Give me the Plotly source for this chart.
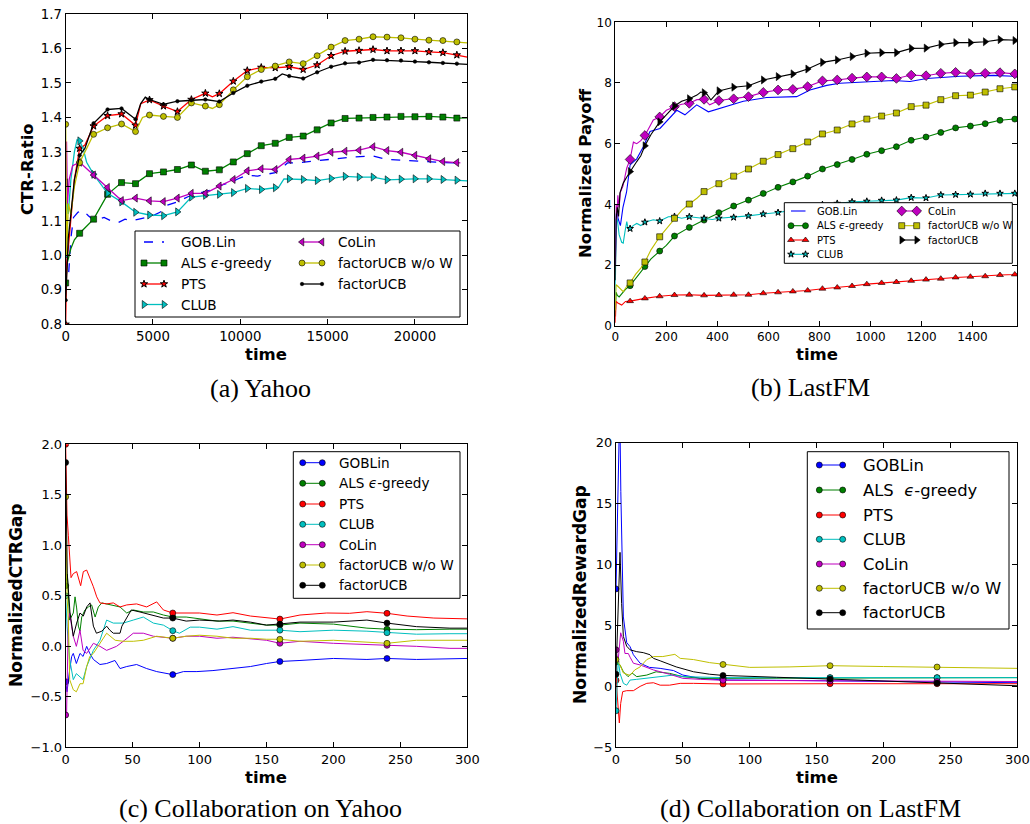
import plotly.graph_objects as go

BLUE, GREEN, RED, CYAN, MAG, YEL, BLK = '#0000ff', '#008000', '#ff0000', '#00bfbf', '#bf00bf', '#bfbf00', '#000000'
NAMES_A = ['GOB.Lin', 'ALS <i>ϵ</i>-greedy', 'PTS', 'CLUB', 'CoLin', 'factorUCB w/o W', 'factorUCB']
NAMES_C = ['GOBLin', 'ALS <i>ϵ</i>-greedy', 'PTS', 'CLUB', 'CoLin', 'factorUCB w/o W', 'factorUCB']
NAMES_D = ['GOBLin', 'ALS  <i>ϵ</i>-greedy', 'PTS', 'CLUB', 'CoLin', 'factorUCB w/o W', 'factorUCB']

# ---------------- (a) Yahoo : CTR-Ratio ----------------
A_MT = [0, 800, 1600, 2400, 3200, 4000, 4800, 5600, 6400, 7200, 8000, 8800, 9600, 10400, 11200,
        12000, 12800, 13600, 14400, 15200, 16000, 16800, 17600, 18400, 19200, 20000, 20800, 21600, 22400]
A_GOB_T = [0, 150, 300, 450, 700, 1000, 1300, 1600, 1900, 2200, 2600, 3000, 3400, 3800, 4200, 4600, 5000,
           5400, 5800, 6400, 7000, 7600, 8400, 9000, 9600, 10000, 10400, 11000, 11600, 12000, 12400, 12700,
           13200, 14000, 15000, 15600, 16400, 17200, 17600, 18400, 19200, 20000, 21000, 22000, 22600]
A_GOB_V = [0.9, 0.93, 1.05, 1.11, 1.125, 1.13, 1.115, 1.102, 1.105, 1.11, 1.10, 1.095, 1.105, 1.10, 1.105,
           1.11, 1.115, 1.125, 1.145, 1.155, 1.17, 1.18, 1.19, 1.205, 1.215, 1.225, 1.232, 1.23, 1.235, 1.24,
           1.255, 1.268, 1.268, 1.272, 1.278, 1.282, 1.285, 1.287, 1.288, 1.278, 1.276, 1.275, 1.272, 1.268, 1.267]
A_ALS_MV = [0.92, 1.064, 1.105, 1.177, 1.211, 1.208, 1.237, 1.242, 1.249, 1.262, 1.244, 1.248, 1.271, 1.295,
            1.318, 1.325, 1.342, 1.346, 1.364, 1.384, 1.397, 1.398, 1.400, 1.401, 1.403, 1.402, 1.403, 1.401, 1.398]
A_ALS_XT = [100, 300, 500, 23000]
A_ALS_XV = [0.98, 1.02, 1.045, 1.399]
A_PTS_MV = [0.80, 1.31, 1.375, 1.405, 1.41, 1.377, 1.451, 1.433, 1.417, 1.452, 1.47, 1.469, 1.505, 1.536,
            1.545, 1.544, 1.547, 1.539, 1.552, 1.579, 1.592, 1.594, 1.597, 1.593, 1.593, 1.593, 1.59, 1.588, 1.581]
A_PTS_XT = [60, 150, 300, 500, 1100, 4300, 8400, 23000]
A_PTS_XV = [0.98, 1.02, 1.10, 1.22, 1.32, 1.44, 1.46, 1.575]
A_CLUB_MV = [1.0, 1.332, 1.235, 1.18, 1.155, 1.125, 1.117, 1.115, 1.126, 1.169, 1.174, 1.177, 1.182, 1.194,
             1.191, 1.196, 1.222, 1.22, 1.217, 1.223, 1.229, 1.227, 1.227, 1.219, 1.221, 1.222, 1.222, 1.22, 1.218]
A_CLUB_XT = [60, 150, 300, 500, 650, 1000, 1200, 12200, 12500, 23000]
A_CLUB_XV = [1.17, 1.12, 1.22, 1.3, 1.335, 1.31, 1.27, 1.198, 1.222, 1.216]
A_COLIN_MV = [1.21, 1.27, 1.233, 1.197, 1.159, 1.166, 1.158, 1.156, 1.166, 1.18, 1.18, 1.201, 1.22, 1.245,
              1.251, 1.249, 1.278, 1.282, 1.288, 1.299, 1.302, 1.305, 1.315, 1.304, 1.299, 1.29, 1.28, 1.272, 1.269]
A_COLIN_XT = [50, 100, 200, 400, 22600]
A_COLIN_XV = [1.33, 1.15, 1.22, 1.26, 1.268]
A_WOW_MV = [1.38, 1.269, 1.351, 1.37, 1.381, 1.359, 1.407, 1.403, 1.40, 1.442, 1.433, 1.437, 1.48, 1.518,
            1.539, 1.549, 1.561, 1.556, 1.579, 1.604, 1.623, 1.627, 1.634, 1.633, 1.631, 1.627, 1.624, 1.623, 1.619]
A_WOW_XT = [60, 150, 300, 500, 4400, 8400, 23000]
A_WOW_XV = [1.0, 1.15, 1.12, 1.2, 1.40, 1.426, 1.616]
A_FUCB_MV = [0.87, 1.29, 1.383, 1.423, 1.426, 1.395, 1.452, 1.438, 1.447, 1.45, 1.452, 1.446, 1.471, 1.492,
             1.504, 1.512, 1.52, 1.513, 1.531, 1.547, 1.557, 1.559, 1.567, 1.566, 1.565, 1.562, 1.56, 1.558, 1.556]
A_FUCB_XT = [60, 150, 300, 500, 1100, 4300, 4560, 12400, 23000]
A_FUCB_XV = [0.97, 1.05, 1.12, 1.22, 1.31, 1.44, 1.459, 1.526, 1.554]

# ---------------- (b) LastFM : Normalized Payoff ----------------
B_MT = [58, 116, 174, 232, 290, 348, 406, 464, 522, 580, 638, 696, 754, 812, 870, 928, 986, 1044, 1102,
        1160, 1218, 1276, 1334, 1392, 1450, 1508, 1566]
B_GOB_T = [0, 5, 12, 20, 30, 44, 58, 84, 110, 136, 175, 201, 241, 273, 319, 365, 410, 502, 593, 711, 763,
           829, 880, 959, 1090, 1155, 1221, 1351, 1482, 1561, 1576]
B_GOB_V = [2.0, 3.8, 3.5, 3.3, 3.9, 4.4, 5.3, 5.5, 5.9, 6.4, 6.5, 6.75, 7.1, 6.95, 7.28, 7.05, 7.17, 7.4,
           7.52, 7.55, 7.77, 7.92, 7.99, 8.02, 8.08, 8.05, 8.15, 8.22, 8.25, 8.22, 8.2]
B_ALS_MV = [1.32, 1.95, 2.46, 2.956, 3.24, 3.48, 3.725, 3.945, 4.14, 4.36, 4.56, 4.74, 4.93, 5.165, 5.31,
            5.48, 5.65, 5.77, 5.90, 6.11, 6.22, 6.37, 6.52, 6.58, 6.66, 6.77, 6.81]
B_ALS_XT = [0, 3, 8, 15, 25, 40, 80, 100, 140, 200, 260, 1576]
B_ALS_XV = [0.3, 1.1, 1.0, 0.95, 1.05, 1.2, 1.55, 1.75, 2.2, 2.65, 3.1, 6.82]
B_PTS_MV = [0.81, 0.9, 0.97, 1.01, 1.02, 1.0, 1.01, 1.02, 1.02, 1.07, 1.1, 1.13, 1.16, 1.22, 1.26, 1.31,
            1.37, 1.41, 1.44, 1.48, 1.52, 1.55, 1.59, 1.615, 1.63, 1.67, 1.69]
B_PTS_XT = [0, 3, 10, 25, 40, 1576]
B_PTS_XV = [0.1, 0.8, 0.75, 0.68, 0.8, 1.7]
B_CLUB_MV = [3.2, 3.41, 3.45, 3.6, 3.59, 3.54, 3.54, 3.57, 3.62, 3.68, 3.73, 3.81, 3.89, 3.99, 4.03, 4.08,
             4.1, 4.13, 4.14, 4.22, 4.21, 4.31, 4.32, 4.33, 4.36, 4.36, 4.36]
B_CLUB_XT = [0, 3, 8, 15, 25, 31, 38, 45, 50, 70, 84, 100, 149, 208, 260, 325, 380, 1576]
B_CLUB_XV = [1.0, 3.7, 3.5, 3.0, 2.75, 2.72, 3.1, 3.43, 3.2, 3.3, 3.37, 3.3, 3.49, 3.59, 3.54, 3.56, 3.5, 4.36]
B_COLIN_MV = [5.48, 6.27, 6.88, 7.22, 7.33, 7.46, 7.42, 7.48, 7.55, 7.69, 7.77, 7.79, 7.88, 8.07, 8.1,
              8.16, 8.2, 8.2, 8.15, 8.26, 8.24, 8.32, 8.35, 8.3, 8.32, 8.34, 8.30]
B_COLIN_XT = [0, 3, 6, 10, 15, 20, 30, 45, 71, 84, 100, 149, 200, 260, 320, 370, 1576]
B_COLIN_XV = [2.0, 4.0, 3.5, 4.3, 3.9, 4.4, 4.6, 5.2, 6.05, 6.0, 6.1, 6.78, 7.1, 7.3, 7.45, 7.28, 8.3]
B_WOW_MV = [1.41, 2.1, 2.93, 3.54, 4.01, 4.42, 4.68, 4.93, 5.165, 5.42, 5.64, 5.835, 6.055, 6.32, 6.45,
            6.65, 6.81, 6.91, 7.01, 7.22, 7.27, 7.45, 7.58, 7.60, 7.70, 7.81, 7.87]
B_WOW_XT = [0, 3, 10, 20, 31, 45, 80, 100, 140, 200, 260, 320, 1576]
B_WOW_XV = [0.5, 1.35, 1.3, 1.2, 1.12, 1.3, 1.7, 1.9, 2.5, 3.2, 3.8, 4.2, 7.95]
B_FUCB_MV = [5.08, 5.93, 6.72, 7.24, 7.48, 7.68, 7.74, 7.86, 7.91, 8.1, 8.21, 8.3, 8.46, 8.68, 8.76, 8.87,
             8.98, 9.0, 9.0, 9.14, 9.15, 9.27, 9.33, 9.33, 9.36, 9.43, 9.40]
B_FUCB_XT = [0, 3, 8, 13, 18, 31, 45, 84, 100, 140, 200, 260, 320, 335, 360, 375, 1576]
B_FUCB_XV = [1.5, 3.5, 3.9, 3.6, 4.37, 4.7, 4.9, 5.41, 5.6, 6.3, 6.95, 7.4, 7.6, 7.7, 7.62, 7.44, 9.41]

# ---------------- (c) Collaboration on Yahoo : NormalizedCTRGap ----------------
CD_MT = [0, 80, 160, 240]
C_GOB_T = [0, 1, 3, 4.5, 5.7, 8, 10.7, 13, 15.7, 18, 20.7, 25.6, 30.6, 36.8, 40.6, 45.6, 53, 60.5, 68, 80,
           88, 98, 110, 125, 138, 150, 160, 175, 200, 225, 240, 262, 287, 300]
C_GOB_V = [-0.35, -0.45, -0.23, -0.1, -0.07, -0.17, -0.07, -0.1, 0.0, -0.07, -0.13, -0.18, -0.17, -0.14, -0.22,
           -0.2, -0.18, -0.22, -0.25, -0.28, -0.25, -0.25, -0.24, -0.22, -0.2, -0.17, -0.15, -0.14, -0.12,
           -0.13, -0.12, -0.13, -0.12, -0.12]
C_ALS_T = [0, 1.2, 3, 5.7, 7, 8.2, 9.5, 10.7, 12, 14.4, 17, 19.4, 22, 24.4, 27, 33, 40.6, 45.6, 50.5, 58,
           65.5, 73, 80, 90, 100, 113, 125, 138, 150, 160, 175, 200, 225, 240, 262, 287, 300]
C_ALS_V = [0.6, 0.72, 0.26, 0.33, 0.49, 0.38, 0.2, 0.15, 0.29, 0.36, 0.39, 0.41, 0.29, 0.39, 0.43, 0.41,
           0.39, 0.33, 0.36, 0.34, 0.34, 0.31, 0.29, 0.29, 0.27, 0.25, 0.25, 0.23, 0.21, 0.21, 0.23, 0.22,
           0.18, 0.17, 0.165, 0.17, 0.17]
C_PTS_T = [0, 1, 2, 3, 4, 5.7, 8.2, 11.2, 13.2, 15.7, 18.2, 20.7, 23.2, 25.6, 30.6, 35.6, 40.6, 45.6, 53,
           60.5, 68, 73, 80, 90, 100, 113, 125, 138, 160, 175, 195, 212, 225, 240, 255, 275, 300]
C_PTS_V = [2.0, 1.3, 1.1, 0.9, 0.68, 0.72, 0.74, 0.6, 0.74, 0.755, 0.68, 0.59, 0.49, 0.43, 0.42, 0.43, 0.39,
           0.41, 0.42, 0.39, 0.44, 0.36, 0.33, 0.33, 0.33, 0.31, 0.333, 0.30, 0.27, 0.31, 0.33, 0.327, 0.343,
           0.327, 0.30, 0.28, 0.272]
C_CLUB_T = [0, 1, 3, 5.7, 8, 10.7, 13, 15.7, 20.7, 25.6, 30.6, 35.6, 43, 50.5, 58, 65.5, 73, 80, 85, 93,
            100, 113, 125, 138, 160, 175, 200, 225, 240, 262, 287, 300]
C_CLUB_V = [0.5, 0.2, -0.13, -0.33, -0.27, -0.3, -0.33, -0.2, -0.04, 0.06, 0.26, 0.23, 0.23, 0.26, 0.29,
            0.23, 0.21, 0.155, 0.13, 0.19, 0.19, 0.17, 0.195, 0.16, 0.16, 0.145, 0.16, 0.15, 0.135, 0.12,
            0.125, 0.125]
C_COLIN_T = [0, 0.7, 2, 3, 4.5, 5.7, 8, 10.7, 13, 15.7, 20.7, 25.6, 30.6, 38, 44, 50.5, 58, 65.5, 80, 90,
             100, 113, 125, 150, 160, 175, 200, 225, 240, 262, 287, 300]
C_COLIN_V = [-0.68, -0.66, 0.26, 0.33, 0.195, 0.1, 0.0, 0.16, -0.04, -0.07, 0.03, 0.0, -0.04, 0.0, 0.06,
             0.13, 0.13, 0.1, 0.08, 0.1, 0.1, 0.08, 0.09, 0.06, 0.03, 0.05, 0.03, 0.02, 0.01, 0.0, -0.02, -0.02]
C_WOW_T = [0, 1, 2, 3, 5.7, 8, 10.7, 13, 15.7, 18, 20.7, 25.6, 30.6, 37, 43, 50.5, 58, 68, 80, 90, 100, 113,
           125, 138, 150, 160, 175, 200, 225, 240, 262, 287, 300]
C_WOW_V = [1.48, 0.5, 0.26, -0.33, -0.43, -0.45, -0.37, -0.37, -0.2, -0.1, -0.07, 0.03, 0.13, 0.06, 0.05,
           0.05, 0.06, 0.1, 0.08, 0.1, 0.11, 0.1, 0.08, 0.08, 0.07, 0.07, 0.05, 0.06, 0.04, 0.03, 0.06, 0.06, 0.06]
C_FUCB_T = [0, 1.2, 3.2, 5.7, 8.2, 10.7, 13.2, 15.7, 18.2, 20.7, 23, 27, 30.6, 33, 35.6, 40.6, 42, 45.6, 49,
            55.5, 65.5, 73, 80, 90, 100, 115, 125, 138, 150, 160, 175, 200, 225, 240, 262, 287, 300]
C_FUCB_V = [1.82, 0.72, 0.34, 0.1, 0.23, 0.33, 0.3, 0.39, 0.43, 0.2, 0.13, 0.15, 0.2, 0.16, 0.13, 0.13, 0.2,
            0.29, 0.36, 0.34, 0.31, 0.28, 0.28, 0.25, 0.26, 0.25, 0.26, 0.24, 0.21, 0.22, 0.24, 0.24, 0.26,
            0.23, 0.195, 0.18, 0.18]

# ---------------- (d) Collaboration on LastFM : NormalizedRewardGap ----------------
D_GOB_T = [0, 2.8, 3.6, 4.5, 5.5, 8, 10.5, 13, 18, 25, 33, 43, 50, 63, 80, 120, 160, 200, 240, 270, 300]
D_GOB_V = [8.0, 23.0, 16.0, 10.9, 5.7, 3.6, 3.26, 2.6, 1.9, 1.56, 1.48, 1.3, 0.93, 0.66, 0.53, 0.5, 0.45,
           0.42, 0.4, 0.35, 0.3]
D_ALS_T = [0, 3, 5.5, 9, 12, 15.5, 23, 30, 40, 50, 63, 80, 160, 240, 300]
D_ALS_V = [2.0, 1.76, 1.2, 0.8, 1.1, 0.8, 0.93, 1.2, 1.07, 0.8, 0.66, 0.66, 0.7, 0.7, 0.72]
D_PTS_T = [0, 0.5, 1.7, 2.5, 3.5, 5, 8, 13, 18, 23, 28, 33, 40, 48, 58, 80, 160, 240, 300]
D_PTS_V = [0.5, 0.0, -1.9, -3.0, -1.4, -0.43, -0.35, -0.35, 0.0, 0.25, 0.3, 0.1, 0.1, 0.25, 0.25, 0.2, 0.22,
           0.22, 0.22]
D_CLUB_T = [0, 1.7, 3, 5.5, 8, 10.5, 15.5, 23, 33, 43, 50, 63, 80, 160, 240, 300]
D_CLUB_V = [-2.0, 2.2, 1.07, 0.25, 0.1, 0.52, 0.58, 0.66, 0.8, 0.93, 0.8, 0.74, 0.72, 0.72, 0.72, 0.72]
D_COLIN_T = [0, 1.5, 3.5, 5.5, 6.7, 9.2, 10.5, 13, 18, 28, 40, 50, 63, 80, 120, 160, 200, 240, 270, 300]
D_COLIN_V = [3.0, 2.0, 4.4, 3.7, 2.7, 2.7, 2.4, 1.9, 1.76, 1.35, 1.0, 0.66, 0.58, 0.5, 0.48, 0.45, 0.42, 0.4,
             0.4, 0.4]
D_WOW_T = [0, 3, 5.5, 10.5, 14, 18, 23, 28, 35, 44, 48, 58, 70, 80, 100, 130, 160, 200, 240, 270, 300]
D_WOW_V = [2.2, 1.76, 1.1, 0.9, 1.35, 1.6, 2.2, 2.45, 2.45, 2.63, 2.3, 2.2, 1.95, 1.8, 1.56, 1.6, 1.7, 1.63,
           1.59, 1.52, 1.48]
D_FUCB_T = [0, 3, 4.2, 5.5, 8, 10.5, 15.5, 20.4, 25.4, 28, 33, 38, 45, 58, 70, 80, 100, 120, 160, 200, 240,
            270, 300]
D_FUCB_V = [1.0, 11.0, 6.8, 4.1, 3.3, 3.0, 2.85, 2.77, 2.6, 2.3, 2.1, 1.9, 1.6, 1.2, 1.0, 0.9, 0.8, 0.75,
            0.6, 0.45, 0.27, 0.15, 0.05]

fig = go.Figure()
ANN = []


def merge(xt, xv, mt, mv):
    pts = sorted(zip(list(xt) + list(mt), list(xv) + list(mv)))
    return [p[0] for p in pts], [p[1] for p in pts]


def add_line(t, v, color, ax, width, dash='solid'):
    fig.add_trace(go.Scatter(x=t, y=v, mode='lines', line=dict(color=color, width=width, dash=dash),
                             xaxis='x' + ax, yaxis='y' + ax, showlegend=False, hoverinfo='skip'))


def add_marks(t, v, color, ax, symbol, size, lw=0.6):
    fig.add_trace(go.Scatter(x=t, y=v, mode='markers',
                             marker=dict(symbol=symbol, size=size, color=color, line=dict(color='black', width=lw)),
                             xaxis='x' + ax, yaxis='y' + ax, showlegend=False, hoverinfo='skip'))


def series(xt, xv, mt, mv, color, ax, width, symbol, size, lw=0.6):
    t, v = merge(xt, xv, mt, mv)
    add_line(t, v, color, ax, width)
    add_marks(mt, mv, color, ax, symbol, size, lw)


def series_sel(t, v, marks, color, ax, width, symbol, size, lw=0.6):
    add_line(t, v, color, ax, width)
    mt = [a for a in t if a in marks]
    mv = [b for a, b in zip(t, v) if a in marks]
    add_marks(mt, mv, color, ax, symbol, size, lw)


STAR_A = dict(symbol='star', size=5.5, lw=1.0)
STAR_B = dict(symbol='star', size=5, lw=1.0)

# (a)
add_line(A_GOB_T, A_GOB_V, BLUE, '', 1.3, 'dash')
series(A_ALS_XT, A_ALS_XV, A_MT, A_ALS_MV, GREEN, '', 1.3, 'square', 6)
series(A_PTS_XT, A_PTS_XV, A_MT, A_PTS_MV, RED, '', 1.3, STAR_A['symbol'], STAR_A['size'], STAR_A['lw'])
series(A_CLUB_XT, A_CLUB_XV, A_MT, A_CLUB_MV, CYAN, '', 1.3, 'triangle-right', 7)
series(A_COLIN_XT, A_COLIN_XV, A_MT, A_COLIN_MV, MAG, '', 1.3, 'triangle-left', 7)
series(A_WOW_XT, A_WOW_XV, A_MT, A_WOW_MV, YEL, '', 1.3, 'circle', 6)
series(A_FUCB_XT, A_FUCB_XV, A_MT, A_FUCB_MV, BLK, '', 1.3, 'circle', 3.5)

# (b)
add_line(B_GOB_T, B_GOB_V, BLUE, '2', 1.1)
series(B_ALS_XT, B_ALS_XV, B_MT, B_ALS_MV, GREEN, '2', 1.1, 'circle', 6)
series(B_PTS_XT, B_PTS_XV, B_MT, B_PTS_MV, RED, '2', 1.1, 'triangle-up', 6)
series(B_CLUB_XT, B_CLUB_XV, B_MT, B_CLUB_MV, CYAN, '2', 1.1, STAR_B['symbol'], STAR_B['size'], STAR_B['lw'])
series(B_COLIN_XT, B_COLIN_XV, B_MT, B_COLIN_MV, MAG, '2', 1.1, 'diamond', 7.5)
series(B_WOW_XT, B_WOW_XV, B_MT, B_WOW_MV, YEL, '2', 1.1, 'square', 6)
series(B_FUCB_XT, B_FUCB_XV, B_MT, B_FUCB_MV, BLK, '2', 1.1, 'triangle-right', 7)

# (c)
C_SER = [(C_GOB_T, C_GOB_V, BLUE), (C_ALS_T, C_ALS_V, GREEN), (C_PTS_T, C_PTS_V, RED),
         (C_CLUB_T, C_CLUB_V, CYAN), (C_COLIN_T, C_COLIN_V, MAG), (C_WOW_T, C_WOW_V, YEL),
         (C_FUCB_T, C_FUCB_V, BLK)]
for t, v, col in C_SER:
    series_sel(t, v, CD_MT, col, '3', 1.0, 'circle', 6)

# (d)
D_SER = [(D_GOB_T, D_GOB_V, BLUE), (D_ALS_T, D_ALS_V, GREEN), (D_PTS_T, D_PTS_V, RED),
         (D_CLUB_T, D_CLUB_V, CYAN), (D_COLIN_T, D_COLIN_V, MAG), (D_WOW_T, D_WOW_V, YEL),
         (D_FUCB_T, D_FUCB_V, BLK)]
for t, v, col in D_SER:
    series_sel(t, v, CD_MT, col, '4', 1.0, 'circle', 6)


# ---------------- legends (drawn on a full-figure pixel overlay axis) ----------------
def leg_box(x0, x1, y0, y1):
    fig.add_trace(go.Scatter(x=[x0, x1, x1, x0, x0], y=[y0, y0, y1, y1, y0], mode='lines', fill='toself',
                             fillcolor='white', line=dict(color='black', width=1),
                             xaxis='x5', yaxis='y5', showlegend=False, hoverinfo='skip'))


def leg_item(xs, xe, y, xt, label, color, fs, width, symbol=None, size=6, dash='solid', lw=0.6):
    mode = 'lines+markers' if symbol else 'lines'
    mk = dict(symbol=symbol, size=size, color=color, line=dict(color='black', width=lw)) if symbol else None
    fig.add_trace(go.Scatter(x=[xs, xe], y=[y, y], mode=mode, line=dict(color=color, width=width, dash=dash),
                             marker=mk, xaxis='x5', yaxis='y5', showlegend=False, hoverinfo='skip'))
    ANN.append(dict(x=xt, y=y, xref='x5', yref='y5', text=label, showarrow=False, xanchor='left',
                    yanchor='middle', font=dict(family='DejaVu Sans', size=fs, color='black')))


# legend (a)
leg_box(135, 460, 231, 317)
ROWS_A = [242, 263, 284, 304.5]
A_LEG = [(BLUE, None, 6, 'dash', 0.6), (GREEN, 'square', 6, 'solid', 0.6), (RED, 'star', 5.5, 'solid', 1.0),
         (CYAN, 'triangle-right', 7, 'solid', 0.6), (MAG, 'triangle-left', 7, 'solid', 0.6),
         (YEL, 'circle', 6, 'solid', 0.6), (BLK, 'circle', 3.5, 'solid', 0.6)]
for i, (col, sym, sz, ds, lw) in enumerate(A_LEG):
    if i < 4:
        leg_item(144, 164, ROWS_A[i], 179, NAMES_A[i], col, 13.6, 1.3, sym, sz, ds, lw)
    else:
        leg_item(302, 322, ROWS_A[i - 4], 336, NAMES_A[i], col, 13.6, 1.3, sym, sz, ds, lw)

# legend (b)
leg_box(784.3, 1012.3, 202.7, 263.3)
ROWS_B = [211, 225.7, 240, 254.3]
B_LEG = [(BLUE, None, 6, 0.6), (GREEN, 'circle', 6, 0.6), (RED, 'triangle-up', 6, 0.6), (CYAN, 'star', 5, 1.0),
         (MAG, 'diamond', 7.5, 0.6), (YEL, 'square', 6, 0.6), (BLK, 'triangle-right', 7, 0.6)]
for i, (col, sym, sz, lw) in enumerate(B_LEG):
    if i < 4:
        leg_item(791, 805.5, ROWS_B[i], 815, NAMES_A[i], col, 10, 1.1, sym, sz, 'solid', lw)
    else:
        leg_item(901.7, 916.7, ROWS_B[i - 4], 925.5, NAMES_A[i], col, 10, 1.1, sym, sz, 'solid', lw)

# legend (c)
leg_box(293.3, 460, 451.7, 598.3)
ROWS_C = [462.7, 483.3, 504, 524.3, 544.7, 565, 585.3]
for i, (t, v, col) in enumerate(C_SER):
    leg_item(302.7, 322.3, ROWS_C[i], 336.5, NAMES_C[i], col, 13.6, 1.0, 'circle', 6)

# legend (d)
leg_box(807.3, 1009, 451.7, 629)
ROWS_D = [465, 490, 515, 539.3, 564, 588.3, 612.7]
for i, (t, v, col) in enumerate(D_SER):
    leg_item(819.3, 842.7, ROWS_D[i], 860.5, NAMES_D[i], col, 16.4, 1.0, 'circle', 6)


# ---------------- titles / captions ----------------
def txt(x, y, s, size, family='DejaVu Sans', angle=0):
    ANN.append(dict(x=x, y=y, xref='x5', yref='y5', text=s, showarrow=False, xanchor='center',
                    yanchor='middle', textangle=angle, font=dict(family=family, size=size, color='black')))


txt(27, 169, '<b>CTR-Ratio</b>', 16.5, angle=-90)
txt(585, 173, '<b>Normalized Payoff</b>', 16.5, angle=-90)
txt(16, 596, '<b>NormalizedCTRGap</b>', 17, angle=-90)
txt(580, 595, '<b>NormalizedRewardGap</b>', 17, angle=-90)
txt(266, 354, '<b>time</b>', 16.5)
txt(817, 354, '<b>time</b>', 16.5)
txt(266, 777, '<b>time</b>', 16.5)
txt(817, 777, '<b>time</b>', 16.5)
txt(260, 388, '(a) Yahoo', 26, 'Liberation Serif')
txt(810, 387, '(b) LastFM', 26, 'Liberation Serif')
txt(260, 808, '(c) Collaboration on Yahoo', 26, 'Liberation Serif')
txt(810, 808, '(d) Collaboration on LastFM', 26, 'Liberation Serif')


def axis(dom, rng, dtick, fs, fmt='', anchor=None):
    d = dict(domain=dom, range=rng, dtick=dtick, tick0=0, showgrid=False, zeroline=False, showline=True,
             linecolor='black', linewidth=1, mirror='ticks', ticks='inside', ticklen=5, tickwidth=1,
             tickcolor='black', tickfont=dict(family='DejaVu Sans', size=fs, color='black'),
             automargin=False, tickformat=fmt, fixedrange=True)
    if anchor:
        d['anchor'] = anchor
    return d


fig.update_layout(
    width=1030, height=824, margin=dict(l=0, r=0, t=0, b=0), autosize=False,
    paper_bgcolor='white', plot_bgcolor='rgba(0,0,0,0)', showlegend=False,
    xaxis=axis([0.06375, 0.45372], [0, 23000], 5000, 13.3, 'd', 'y'),
    yaxis=axis([0.60643, 0.98301], [0.8, 1.7], 0.1, 13.3, '.1f', 'x'),
    xaxis2=axis([0.59738, 0.98770], [0, 1576], 200, 12, 'd', 'y2'),
    yaxis2=axis([0.60473, 0.97294], [0, 10], 2, 12, 'd', 'x2'),
    xaxis3=axis([0.06375, 0.45372], [0, 300], 50, 13, 'd', 'y3'),
    yaxis3=axis([0.09304, 0.46076], [-1, 2], 0.5, 13, '.1f', 'x3'),
    xaxis4=axis([0.59806, 0.98770], [0, 300], 50, 13, 'd', 'y4'),
    yaxis4=axis([0.09304, 0.46278], [-5, 20], 5, 13, 'd', 'x4'),
    xaxis5=dict(domain=[0, 1], range=[0, 1030], visible=False, fixedrange=True, anchor='y5'),
    yaxis5=dict(domain=[0, 1], range=[824, 0], visible=False, fixedrange=True, anchor='x5'),
    annotations=ANN,
)

fig.write_html('out.html')
